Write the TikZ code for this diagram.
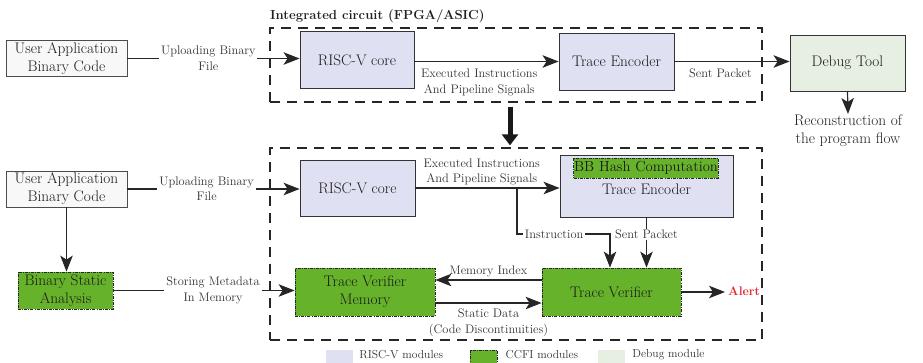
\documentclass[tikz,border=0pt]{standalone}
\usepackage{fontspec}
\usetikzlibrary{arrows.meta,positioning,calc}

\definecolor{rvfill}{HTML}{DFE0F2}
\definecolor{ccfi}{HTML}{67B22B}
\definecolor{dbgfill}{HTML}{E7EFE2}
\definecolor{appfill}{HTML}{F8F8F8}
\definecolor{edge}{HTML}{333333}
\definecolor{labtext}{HTML}{333333}
\definecolor{alertred}{HTML}{E3262B}

\begin{document}
\begin{tikzpicture}[x=1pt,y=-1pt,
  mainfont/.style={font=\fontsize{15.3}{18}\selectfont},
  labfont/.style={font=\fontsize{12.4}{15.5}\selectfont},
  box/.style={draw=edge, line width=0.9pt, inner sep=0pt, align=center,
    text=black!90, mainfont},
  rvbox/.style={box, fill=rvfill},
  appbox/.style={box, fill=appfill, draw=black!70},
  dbgbox/.style={box, fill=dbgfill},
  ccfibox/.style={box, fill=ccfi, draw=black!85, line width=0.8pt,
    dash pattern=on 3pt off 1.2pt on 0.8pt off 1.2pt},
  icbox/.style={draw=black!85, line width=1.3pt, dash pattern=on 10pt off 7pt,
    inner sep=0pt},
  lab/.style={labfont, text=labtext, align=center, inner sep=2pt},
  conn/.style={draw=black!85, line width=1.2pt},
  arr/.style={conn, -{Stealth[length=16pt,width=12.5pt,inset=4pt]}},
  bigarr/.style={draw=black!90, line width=5pt,
    -{Triangle[length=11pt,width=16pt]}},
  swatchfont/.style={font=\fontsize{11.6}{14}\selectfont, text=labtext},
]
\useasboundingbox (0,0) rectangle (923,362);

% --- integrated-circuit frames ---
\node[icbox, minimum width=492pt, minimum height=74pt] (icTop) at (516,65) {};
\node[icbox, minimum width=492pt, minimum height=192pt] (icBot) at (516,244) {};
\node[anchor=base west, inner sep=0pt, font=\bfseries\fontsize{13.1}{15}\selectfont,
  text=black!88] (ictitle) at (270,19.5) {Integrated circuit (FPGA/ASIC)};

% --- conventional trace flow ---
\node[appbox, minimum width=121pt, minimum height=36pt] (ua1) at (66.5,58.5)
  {User Application\\Binary Code};
\node[rvbox, minimum width=114pt, minimum height=57pt] (rv1) at (357,60) {RISC-V core};
\node[rvbox, minimum width=115pt, minimum height=57pt] (te1) at (616.5,61.5) {Trace Encoder};
\node[dbgbox, minimum width=115pt, minimum height=56pt] (dbg) at (847.5,63) {Debug Tool};
\node[mainfont, align=center, anchor=north, inner sep=1pt, text=black!88] (recon)
  at (848,114) {Reconstruction of\\the program flow};

\draw[arr] (ua1.east) -- node[lab, fill=white, pos=0.47] {Uploading Binary\\File}
  (ua1.east -| rv1.west);
\draw[arr] (rv1.east |- te1.west) -- node[lab, below=5pt, pos=0.45]
  {Executed Instructions\\And Pipeline Signals} (te1.west);
\draw[arr] (te1.east) -- node[lab, below=5pt, pos=0.4] {Sent Packet} (te1.east -| dbg.west);
\draw[arr] (dbg.south) -- (recon.north);

% --- transition to the CCFI architecture ---
\draw[bigarr] ([xshift=-6pt,yshift=-4pt]icTop.south) -- ([xshift=-6pt,yshift=2pt]icBot.north);

% --- CCFI trace flow ---
\node[appbox, minimum width=121pt, minimum height=36pt] (ua2) at (66.5,189)
  {User Application\\Binary Code};
\node[ccfibox, minimum width=95pt, minimum height=37pt] (bsa) at (65.5,290.5)
  {Binary Static\\Analysis};
\node[rvbox, minimum width=115pt, minimum height=56pt] (rv2) at (357.5,188) {RISC-V core};
\node[rvbox, minimum width=173pt, minimum height=62pt] (te2) at (646.5,186) {};
\node[ccfibox, font=\fontsize{14.6}{17}\selectfont, inner xsep=0.5pt, inner ysep=1pt,
  minimum height=20pt] (bbh) at (646,168) {BB Hash Computation};
\node[mainfont, inner sep=0pt, text=black!90] (te2txt) at (646.5,189) {Trace Encoder};
\node[ccfibox, minimum width=140pt, minimum height=48pt] (tvm) at (365,292)
  {Trace Verifier\\Memory};
\node[ccfibox, minimum width=139pt, minimum height=48pt] (tv) at (611.5,292)
  {Trace Verifier};
\node[font=\bfseries\fontsize{12.4}{15}\selectfont, text=alertred, inner sep=3pt,
  anchor=west] (alert) at (725,291) {Alert};

\coordinate (br) at (517,188);
\coordinate (instr) at (610,234);

\draw[arr] (ua2.east) -- node[lab, fill=white, pos=0.46] {Uploading Binary\\File}
  (ua2.east -| rv2.west);
\draw[arr] (rv2.east) -- node[lab, above=0pt, pos=0.46]
  {Executed Instructions\\And Pipeline Signals} (rv2.east -| te2.west);
\draw[arr] (br) |- node[lab, fill=white, pos=0.7, inner xsep=1.5pt, inner ysep=1pt]
  {Instruction} (instr) -- (instr |- tv.north);
\draw[arr] (te2.south) -- node[lab, fill=white, pos=0.33, inner ysep=1pt] {Sent Packet}
  (te2.south |- tv.north);
\draw[arr] (tv.east) -- (tv.east -| alert.west);
\draw[arr] ([yshift=12pt]tv.west) -- node[lab, above=0pt] {Memory Index}
  ([yshift=12pt]tvm.east);
\draw[arr] ([yshift=-11pt]tvm.east) -- node[lab, below=3.5pt]
  {Static Data\\(Code Discontinuities)} ([yshift=-11pt]tv.west);
\draw[arr] (ua2.south) -- (ua2.south |- bsa.north);
\draw[arr] (bsa.east) -- node[lab, fill=white, pos=0.55] {Storing Metadata\\In Memory}
  (bsa.east -| tvm.west);

% --- legend ---
\node[fill=rvfill, minimum width=27pt, minimum height=14pt, inner sep=0pt] (lg1) at (339.5,357) {};
\node[swatchfont, anchor=west, inner sep=0pt] (lg1t) at ([xshift=6pt,yshift=2pt]lg1.east) {RISC-V modules};
\node[ccfibox, minimum width=27pt, minimum height=14pt] (lg2) at (483.5,357) {};
\node[swatchfont, anchor=west, inner sep=0pt] (lg2t) at ([xshift=8pt,yshift=2pt]lg2.east) {CCFI modules};
\node[fill=dbgfill, minimum width=27pt, minimum height=14pt, inner sep=0pt] (lg3) at (611.5,357) {};
\node[swatchfont, anchor=west, inner sep=0pt] (lg3t) at ([xshift=7pt,yshift=2pt]lg3.east) {Debug module};
\end{tikzpicture}
\end{document}
